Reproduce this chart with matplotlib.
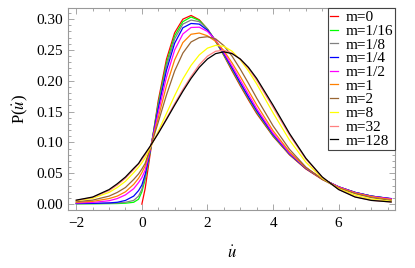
import numpy as np
import matplotlib
matplotlib.use('Agg')
import matplotlib.pyplot as plt
from matplotlib.ticker import MultipleLocator

plt.rcParams['font.family'] = ['Liberation Serif', 'DejaVu Serif']
plt.rcParams['mathtext.fontset'] = 'stix'

# values
u = [-2, -1.5, -1, -0.75, -0.5, -0.25, -0.1, 0, 0.1, 0.25, 0.5, 0.75, 1, 1.25, 1.5,
     1.75, 2, 2.25, 2.5, 2.75, 3, 3.25, 3.5, 4, 4.5, 5, 5.5, 6, 6.5, 7, 7.6]

p_m0 = [np.nan] * 7 + [0, 0.025, 0.080, 0.168, 0.235, 0.278, 0.300, 0.306,
        0.299, 0.284, 0.264, 0.241, 0.216, 0.192, 0.169, 0.147, 0.110, 0.080,
        0.057, 0.040, 0.028, 0.019, 0.013, 0.0085]
p_m1_16 = [0.0005, 0.0006, 0.0008, 0.001, 0.0015, 0.003, 0.008, 0.020, 0.040, 0.084,
           0.163, 0.229, 0.273, 0.296, 0.3035, 0.298, 0.284, 0.264, 0.242, 0.218,
           0.194, 0.171, 0.149, 0.111, 0.081, 0.058, 0.041, 0.028, 0.019, 0.013, 0.0085]
p_m1_8 = [0.0007, 0.0009, 0.0013, 0.0018, 0.003, 0.006, 0.013, 0.024, 0.044, 0.085,
          0.160, 0.224, 0.268, 0.292, 0.2985, 0.296, 0.284, 0.265, 0.243, 0.219,
          0.195, 0.172, 0.150, 0.112, 0.081, 0.058, 0.041, 0.028, 0.019, 0.013, 0.0088]
p_m1_4 = [0.001, 0.0013, 0.002, 0.003, 0.006, 0.013, 0.022, 0.031, 0.048, 0.086,
          0.155, 0.217, 0.261, 0.286, 0.293, 0.292, 0.282, 0.265, 0.244, 0.221,
          0.197, 0.174, 0.152, 0.113, 0.082, 0.058, 0.041, 0.028, 0.019, 0.013, 0.009]
p_m1_2 = [0.0018, 0.0028, 0.0055, 0.009, 0.015, 0.025, 0.035, 0.043, 0.055, 0.088,
          0.148, 0.206, 0.250, 0.276, 0.2865, 0.287, 0.280, 0.266, 0.246, 0.224,
          0.201, 0.178, 0.155, 0.115, 0.083, 0.059, 0.041, 0.028, 0.0185, 0.0125, 0.0085]
p_m1 = [0.003, 0.0045, 0.009, 0.013, 0.020, 0.032, 0.042, 0.051, 0.062, 0.089,
        0.140, 0.192, 0.234, 0.262, 0.2755, 0.2775, 0.273, 0.264, 0.249, 0.229,
        0.207, 0.184, 0.161, 0.119, 0.085, 0.059, 0.041, 0.027, 0.018, 0.012, 0.0075]
p_m2 = [0.004, 0.0065, 0.013, 0.019, 0.027, 0.040, 0.049, 0.057, 0.066, 0.090,
        0.133, 0.177, 0.216, 0.245, 0.263, 0.270, 0.2715, 0.268, 0.257, 0.240,
        0.219, 0.196, 0.172, 0.127, 0.089, 0.060, 0.040, 0.026, 0.017, 0.0105, 0.006]
p_m8 = [0.0055, 0.0095, 0.019, 0.027, 0.037, 0.051, 0.060, 0.067, 0.075, 0.091,
        0.118, 0.147, 0.176, 0.203, 0.225, 0.242, 0.253, 0.2575, 0.256, 0.248,
        0.234, 0.216, 0.195, 0.148, 0.104, 0.068, 0.042, 0.025, 0.0145, 0.008, 0.0045]
p_m32 = [0.006, 0.011, 0.022, 0.031, 0.042, 0.056, 0.065, 0.072, 0.080, 0.093,
         0.1155, 0.139, 0.163, 0.186, 0.207, 0.226, 0.240, 0.248, 0.2495, 0.245,
         0.235, 0.220, 0.201, 0.157, 0.112, 0.073, 0.0435, 0.024, 0.012, 0.0062, 0.0035]
p_m128 = [0.0065, 0.0115, 0.0236, 0.033, 0.044, 0.058, 0.066, 0.0745, 0.082, 0.0937,
          0.1147, 0.1373, 0.1605, 0.183, 0.2039, 0.2218, 0.2354, 0.2441, 0.247, 0.2441,
          0.2354, 0.2218, 0.2039, 0.1605, 0.1147, 0.0745, 0.044, 0.0236, 0.0115, 0.006, 0.0035]

labels = ['m=0', 'm=1/16', 'm=1/8', 'm=1/4', 'm=1/2', 'm=1', 'm=2', 'm=8', 'm=32', 'm=128']
series = [p_m0, p_m1_16, p_m1_8, p_m1_4, p_m1_2, p_m1, p_m2, p_m8, p_m32, p_m128]
colors = ['#ff0000', '#00ff00', '#808080', '#0000ff', '#ff00ff',
          '#ff8000', '#996633', '#ffff00', '#ff8080', '#000000']

fig = plt.figure(figsize=(4.15, 2.68), dpi=100)
ax = fig.add_axes([0.164, 0.216, 0.788, 0.753])

for s, c, lab in zip(series, colors, labels):
    ax.plot(u, s, color=c, lw=0.9, label=lab)

ax.set_xlim(-2.25, 7.72)
ax.set_ylim(-0.0097, 0.3176)
ax.xaxis.set_major_locator(MultipleLocator(2))
ax.xaxis.set_minor_locator(MultipleLocator(0.5))
ax.yaxis.set_major_locator(MultipleLocator(0.05))
ax.yaxis.set_minor_locator(MultipleLocator(0.01))
ax.yaxis.set_major_formatter(matplotlib.ticker.FormatStrFormatter('%.2f'))

ax.tick_params(which='both', direction='in', top=True, right=True,
               color='#999999', labelsize=11, width=0.6)
ax.tick_params(which='major', length=4)
ax.tick_params(which='minor', length=2)
ax.tick_params(axis='x', pad=5)
for sp in ax.spines.values():
    sp.set_color('#999999')
    sp.set_linewidth(0.8)

ax.set_xlabel(r'$\dot{u}$', fontsize=12, labelpad=11)
ax.set_ylabel(r'P($\dot{u}$)', fontsize=12, labelpad=4)

leg = ax.legend(loc='upper right', borderaxespad=0, fontsize=11, labelspacing=0.0,
                handlelength=0.5, handletextpad=0.5, borderpad=0.15, fancybox=False,
                framealpha=1)
leg.get_frame().set_edgecolor('#444444')
leg.get_frame().set_linewidth(0.8)

fig.savefig('out.png', dpi=100)
